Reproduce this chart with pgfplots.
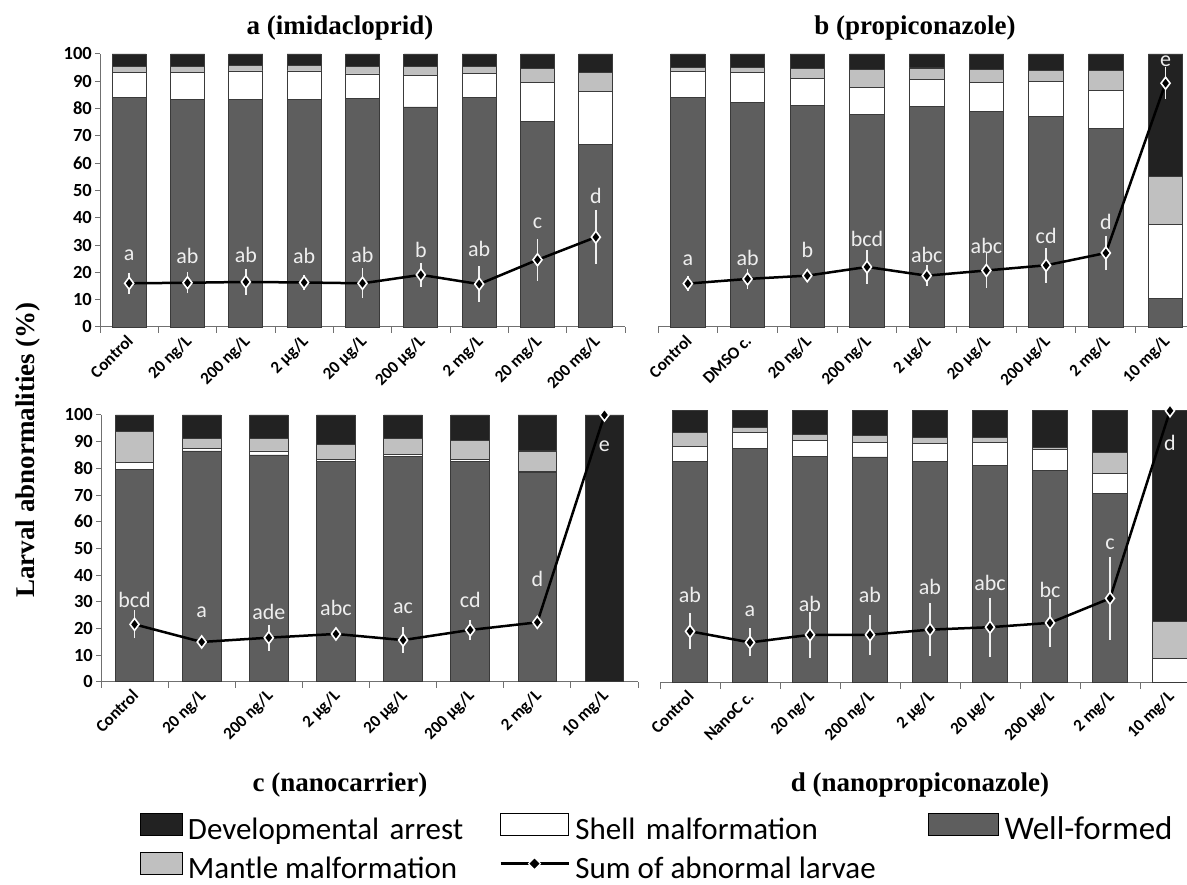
\documentclass[border=0pt]{standalone}
\usepackage{pgfplots}
\usepackage{pgfplotstable}
\pgfplotsset{compat=1.18}
\usepackage{fontspec}
\setmainfont{Liberation Serif}
\newfontfamily\carl{Carlito}

\definecolor{wfc}{HTML}{5E5E5E}
\definecolor{arrc}{HTML}{222222}
\definecolor{manc}{HTML}{C0C0C0}
\definecolor{edgec}{HTML}{3A3A3A}
\definecolor{axc}{HTML}{707070}
\definecolor{lettc}{HTML}{EEEEEE}
\definecolor{errc}{HTML}{F0F0F0}

% cumulative tops: well-formed, +shell, +mantle, +arrest(100); sum of abnormal larvae, error; letter
\pgfplotstableread{
x wf sh ma ar sum err ly lab
0 84.0 93.3 95.4 100 16.0 2.3 24.3 a
1 83.4 93.3 95.5 100 16.2 2.2 23.2 ab
2 83.2 93.8 95.7 100 16.5 3.0 23.7 ab
3 83.4 93.8 95.7 100 16.3 1.0 23.4 ab
4 83.8 92.7 95.4 100 16.0 3.8 23.8 ab
5 80.6 92.0 95.4 100 19.1 2.7 25.3 b
6 84.0 92.9 95.4 100 15.7 4.9 25.8 ab
7 75.2 89.5 94.8 100 24.6 6.0 36.2 c
8 66.7 86.2 93.3 100 32.9 8.2 45.1 d
}\tabA

\pgfplotstableread{
x wf sh ma ar sum err ly lab
0 84.1 93.5 95.1 100 15.9 1.0 22.6 a
1 82.2 93.2 95.1 100 17.6 2.1 22.7 ab
2 81.0 91.2 94.6 100 18.8 0.8 25.6 b
3 77.8 87.8 94.3 100 22.0 4.5 29.3 bcd
4 80.9 90.6 94.9 100 18.8 2.1 23.6 abc
5 79.1 89.6 94.3 100 20.7 4.6 26.8 abc
6 77.1 89.9 94.1 100 22.6 4.7 30.5 cd
7 72.6 86.6 93.9 100 27.1 4.6 35.7 d
8 10.6 37.4 55.1 100 89.3 4.2 95.5 e
}\tabB

\pgfplotstableread{
x wf sh ma ar sum err ly lab
0 79.6 82.1 93.75 100 21.5 3.6 27.9 bcd
1 86.5 87.6 91.25 100 14.9 0.5 24.1 a
2 85.0 86.5 91.25 100 16.5 3.25 23.2 ade
3 82.5 83.4 89.0 100 17.9 0.6 24.7 abc
4 84.4 85.1 91.25 100 15.6 3.1 25.6 ac
5 82.5 83.4 90.4 100 19.4 1.9 27.9 cd
6 78.4 78.75 86.5 100 22.25 0.6 35.7 d
7 0 0 0 100 100 0 86.3 e
}\tabC

\pgfplotstableread{
x wf sh ma ar sum err ly lab
0 81.4 86.8 92.0 100 18.9 4.9 29.5 ab
1 86.2 92.0 93.9 100 14.8 3.5 24.3 a
2 83.1 89.2 91.1 100 17.6 6.7 26.0 ab
3 83.0 88.4 91.0 100 17.6 5.6 29.5 ab
4 81.2 87.9 90.1 100 19.5 8.0 32.6 ab
5 79.9 88.4 90.3 100 20.4 9.25 34.0 abc
6 77.9 85.8 86.4 100 22.0 7.1 31.4 bc
7 69.6 77.0 84.7 100 31.0 13.6 48.8 c
8 0 8.9 22.4 100 100 0 85.3 d
}\tabD

\pgfplotsset{
  panel/.style={
    scale only axis, anchor=south west, ymin=0, ymax=100, clip=false,
    axis x line*=bottom, axis y line*=left,
    axis line style={axc, line width=1pt},
    tick style={axc, line width=1pt},
    tick align=outside, major tick length=5pt, minor tick length=6pt,
    ytick={0,10,...,100},
    /pgf/number format/assume math mode=true,
    yticklabel style={font=\carl\bfseries\fontsize{18.5}{18.5}\selectfont, inner sep=0pt, xshift=-3pt},
    xticklabel style={font=\carl\bfseries\fontsize{17}{17}\selectfont, inner sep=0pt, text height=12pt, text depth=3.5pt, xshift=2pt, yshift=-7pt, rotate=45, anchor=east},
    major x tick style={draw=none},
  },
  nob/.style={ytick=\empty, y axis line style={draw=none}},
  barst/.style={ybar, bar shift=0pt, draw=edgec, line width=0.8pt},
  sumst/.style={black, line width=2.5pt, mark=diamond*, mark size=6pt,
    mark options={solid, fill=black, draw=white, line width=1.6pt},
    error bars/.cd, y dir=both, y explicit,
    error bar style={errc, line width=1.6pt},
    error mark options={errc, line width=1.6pt, mark size=4.5pt}},
  letst/.style={draw=none, mark=none, nodes near coords, point meta=explicit symbolic,
    nodes near coords style={anchor=base, inner sep=0pt, text=lettc, font=\carl\fontsize{22}{22}\selectfont}},
}

\newcommand{\panelplots}[1]{%
  \addplot[barst, fill=arrc] table[x=x,y=ar]{#1};
  \addplot[barst, fill=manc] table[x=x,y=ma]{#1};
  \addplot[barst, fill=white] table[x=x,y=sh]{#1};
  \addplot[barst, fill=wfc] table[x=x,y=wf]{#1};
  \addplot[sumst] table[x=x,y=sum,y error=err]{#1};
  \addplot[letst] table[x=x,y=ly,meta=lab]{#1};
}

\begin{document}
\begin{tikzpicture}

% panel a
\begin{axis}[panel, at={(100pt,558pt)}, width=525pt, height=273pt,
  xmin=-0.5, xmax=8.5, bar width=34pt,
  xtick={0,...,8}, minor xtick={-0.5,0.5,...,8.5},
  xticklabels={Control,20 ng/L,200 ng/L,2 µg/L,20 µg/L,200 µg/L,2 mg/L,20 mg/L,200 mg/L}]
\panelplots{\tabA}
\end{axis}

% panel b
\begin{axis}[panel, nob, at={(658pt,558pt)}, width=537.4pt, height=273pt,
  xmin=-0.5, xmax=8.5, bar width=34.5pt,
  xtick={0,...,8}, minor xtick={-0.5,0.5,...,8.5},
  xticklabels={Control,DMSO c.,20 ng/L,200 ng/L,2 µg/L,20 µg/L,200 µg/L,2 mg/L,10 mg/L}]
\panelplots{\tabB}
\end{axis}

% panel c
\begin{axis}[panel, at={(101pt,203.3pt)}, width=537pt, height=266.7pt,
  xmin=-0.5, xmax=7.5, bar width=38.6pt,
  xtick={0,...,7}, minor xtick={-0.5,0.5,...,7.5},
  xticklabels={Control,20 ng/L,200 ng/L,2 µg/L,20 µg/L,200 µg/L,2 mg/L,10 mg/L}]
\panelplots{\tabC}
\end{axis}

% panel d
\begin{axis}[panel, nob, at={(660pt,202.3pt)}, width=540pt, height=272pt,
  xmin=-0.5, xmax=8.5, bar width=35pt,
  xtick={0,...,8}, minor xtick={-0.5,0.5,...,8.5},
  xticklabels={Control,NanoC c.,20 ng/L,200 ng/L,2 µg/L,20 µg/L,200 µg/L,2 mg/L,10 mg/L}]
\panelplots{\tabD}
\end{axis}

% legend
\begin{axis}[at={(0pt,0pt)}, anchor=south west, scale only axis, width=1187pt, height=885pt,
  hide axis, xmin=0, xmax=1, ymin=0, ymax=1,
  legend columns=3,
  legend style={at={(0.11794,0.0904)}, anchor=north west, draw=none, fill=none,
    inner sep=0pt, outer sep=0pt, column sep=0pt, row sep=3pt,
    font=\carl\fontsize{31}{31}\selectfont, nodes={inner sep=0pt}},
  legend cell align=left]
\addlegendimage{legend image code/.code={\draw[fill=arrc, draw=black, line width=0.8pt] (0pt,-6pt) rectangle (42pt,16pt); \path (0pt,24pt);}}
\addlegendentry[text width=316pt, align=left]{\,Developmental arrest}
\addlegendimage{legend image code/.code={\draw[fill=white, draw=black, line width=0.8pt] (0pt,-6pt) rectangle (68pt,16pt); \path (0pt,24pt);}}
\addlegendentry[text width=358pt, align=left]{\,Shell malformation}
\addlegendimage{legend image code/.code={\draw[fill=wfc, draw=black, line width=0.8pt] (0pt,-6pt) rectangle (70pt,16pt); \path (0pt,24pt);}}
\addlegendentry[font=\carl\fontsize{33}{33}\selectfont]{\,Well-formed}
\addlegendimage{legend image code/.code={\draw[fill=manc, draw=black, line width=0.8pt] (0pt,-6pt) rectangle (42pt,16pt); \path (0pt,24pt);}}
\addlegendentry[align=left]{\,Mantle malformation}
\addlegendimage{legend image code/.code={\draw[black, line width=3.5pt] (0pt,5pt) -- (68pt,5pt);
   \path[fill=black, draw=white, line width=1pt] (34pt,11pt) -- (40pt,5pt) -- (34pt,-1pt) -- (28pt,5pt) -- cycle; \path (0pt,19pt);}}
\addlegendentry[align=left]{\,Sum of abnormal larvae}
\end{axis}

% titles
\node[font=\bfseries\fontsize{27}{27}\selectfont] at (340pt,857pt) {a (imidacloprid)};
\node[font=\bfseries\fontsize{27}{27}\selectfont] at (915pt,857pt) {b (propiconazole)};
\node[font=\bfseries\fontsize{27}{27}\selectfont] at (340pt,100pt) {c (nanocarrier)};
\node[font=\bfseries\fontsize{27}{27}\selectfont] at (920pt,100pt) {d (nanopropiconazole)};
\node[rotate=90, font=\bfseries\fontsize{27}{27}\selectfont] at (28pt,435pt) {Larval abnormalities (\%)};

\pgfresetboundingbox
\useasboundingbox (0pt,0pt) rectangle (1187pt,885pt);
\end{tikzpicture}
\end{document}
